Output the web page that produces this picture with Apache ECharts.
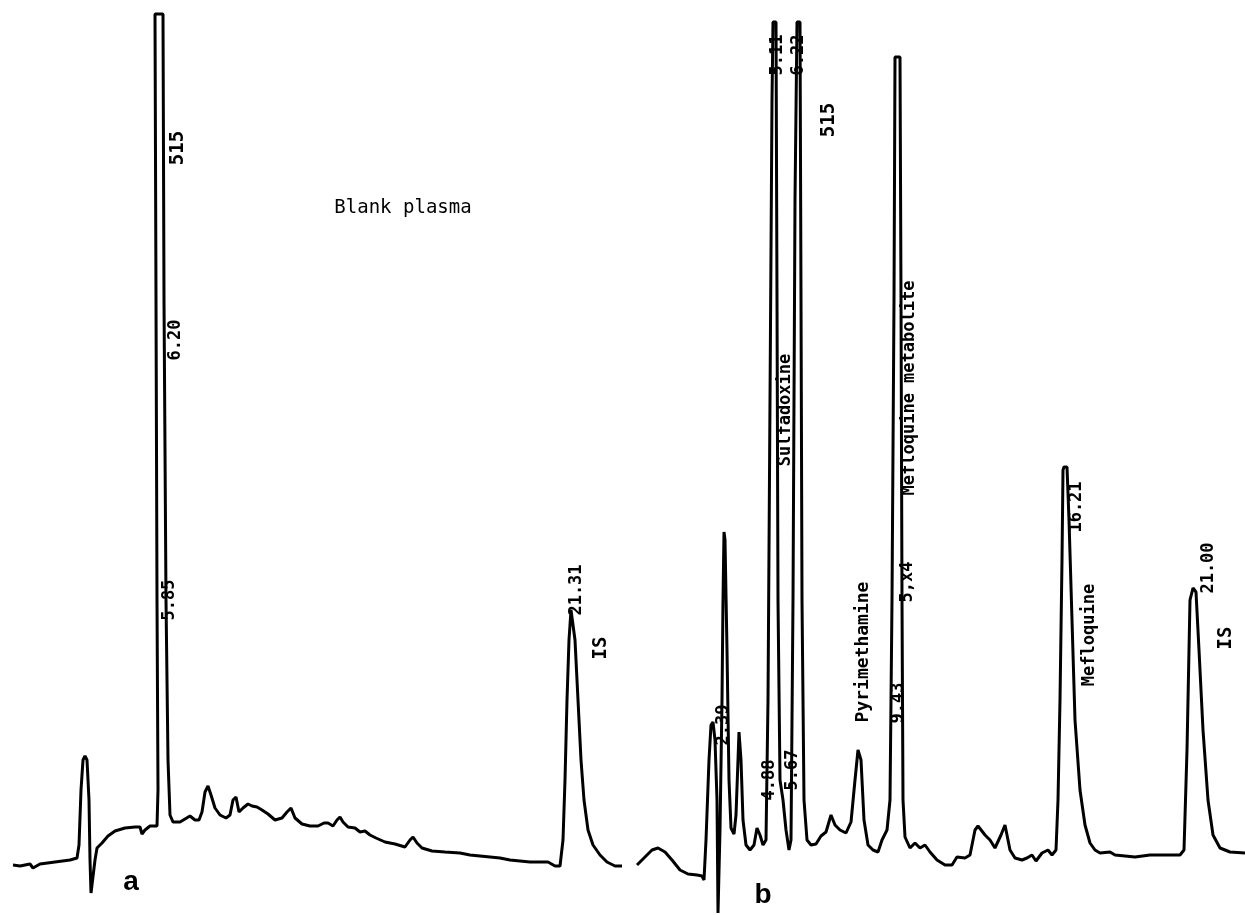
<!DOCTYPE html>
<html>
<head>
<meta charset="utf-8">
<script src="https://cdn.jsdelivr.net/npm/echarts@6/dist/echarts.min.js"></script>
<style>html,body{margin:0;padding:0;background:#fff}#c{width:1245px;height:915px}</style>
</head>
<body>
<div id="c"></div>
<script>
// Trace a: blank plasma (chart-paper position, detector response in arbitrary units)
const traceA = [[13,50],[20,49],[30,51],[33,47],[40,51],[55,53],[70,55],[77,57],[79,70],[81,125],[83,155],[85,159],[87,155],[89,115],[90,55],[91,22],[93,22],[95,55],[97,67],[102,72],[108,79],[115,84],[125,87],[135,88],[140,88],[142,81],[145,85],[150,89],[157,89],[158,125],[157,315],[156,615],[155,901],[163,901],[164,615],[166,315],[168,155],[170,100],[173,93],[180,93],[185,96],[190,99],[195,95],[199,95],[202,103],[205,123],[208,129],[211,120],[215,107],[220,100],[226,97],[230,100],[233,115],[236,118],[239,103],[243,107],[248,111],[252,109],[257,108],[262,105],[268,101],[275,95],[282,97],[287,103],[291,107],[295,97],[302,91],[310,89],[318,89],[324,92],[328,92],[333,89],[337,95],[340,98],[343,93],[348,88],[355,87],[360,83],[365,84],[370,80],[376,77],[385,73],[395,71],[405,68],[410,75],[413,78],[417,72],[422,67],[432,64],[445,63],[460,62],[470,60],[480,59],[490,58],[500,57],[510,55],[520,54],[530,53],[540,53],[548,53],[555,49],[560,49],[563,75],[565,135],[567,215],[569,275],[571,305],[573,303],[575,275],[578,215],[581,155],[584,115],[588,85],[593,70],[600,60],[607,53],[615,49],[622,49]];

// Trace b: spiked plasma
const traceB = [[637,50],[645,58],[652,65],[658,67],[665,63],[672,55],[680,45],[688,41],[697,40],[702,39],[704,35],[706,75],[709,155],[711,190],[713,193],[715,175],[717,115],[718,2],[719,2],[720,85],[722,215],[723,315],[724,383],[725,375],[727,265],[729,135],[731,87],[734,81],[736,100],[738,155],[739,183],[741,155],[743,95],[746,70],[750,65],[754,70],[757,87],[760,80],[763,70],[766,75],[768,215],[770,515],[772,815],[773,893],[776,893],[777,615],[778,315],[780,135],[783,115],[786,85],[789,65],[791,75],[793,315],[795,715],[797,893],[800,893],[801,615],[802,315],[804,115],[807,75],[811,70],[816,71],[821,79],[826,83],[831,100],[835,90],[840,85],[846,82],[851,93],[855,135],[858,165],[861,155],[864,95],[868,70],[873,65],[878,63],[882,75],[887,85],[890,115],[892,315],[894,615],[895,858],[900,858],[901,615],[902,315],[903,115],[905,78],[910,67],[915,72],[920,67],[925,70],[930,63],[937,55],[945,50],[952,50],[957,58],[965,57],[970,60],[975,85],[978,89],[985,80],[990,75],[995,67],[1001,80],[1005,90],[1010,65],[1015,57],[1022,55],[1027,57],[1032,60],[1036,54],[1042,62],[1048,65],[1052,60],[1056,65],[1058,115],[1060,215],[1062,355],[1063,445],[1064,448],[1067,448],[1069,395],[1072,295],[1075,195],[1080,125],[1085,90],[1090,72],[1095,65],[1100,62],[1110,63],[1115,60],[1135,58],[1150,60],[1180,60],[1184,65],[1187,165],[1190,315],[1193,327],[1196,323],[1199,265],[1203,185],[1208,115],[1213,80],[1220,67],[1230,63],[1245,62]];

const retentionLabelsA = ['515', '6.20', '5.85', '21.31', 'IS'];
const retentionLabelsB = ['5.11', '6.22', '515', '2.39', '4.88', '5.67', '9.43', '5,x4', '16.21', '21.00', 'IS'];
const compoundNames = ['Sulfadoxine', 'Pyrimethamine', 'Mefloquine metabolite', 'Mefloquine'];
const titleText = 'Blank plasma';
const panelLetters = ['a', 'b'];

// ---- layout (positions/styles only) ----
const mono = '"DejaVu Sans Mono", monospace';
const labelLayoutA = [[178,148],[176,340],[170,600],[577,590],[601,648]];
const labelLayoutB = [[778,55],[799,55],[829,120],[724,725],[770,780],[793,770],[899,703],[908,582],[1077,507],[1209,568],[1226,638]];
const compoundLayout = [[786,410],[863,652],[910,388],[1090,635]];

function vText(text, x, y, size, weight) {
  return {
    type: 'text', x: x, y: y, rotation: Math.PI / 2,
    style: { text: text, fontFamily: mono, fontSize: size, fontWeight: weight || 'bold', fill: '#000', align: 'center', verticalAlign: 'middle' },
    z: 100
  };
}

const graphics = [];
retentionLabelsA.forEach((t, i) => graphics.push(vText(t, labelLayoutA[i][0], labelLayoutA[i][1], t === 'IS' || t === '515' ? 19 : 17)));
retentionLabelsB.forEach((t, i) => graphics.push(vText(t, labelLayoutB[i][0], labelLayoutB[i][1], t === 'IS' || t === '515' ? 19 : 17)));
compoundNames.forEach((t, i) => graphics.push(vText(t, compoundLayout[i][0], compoundLayout[i][1], t === 'Pyrimethamine' ? 18 : 17)));
graphics.push({ type: 'text', x: 403, y: 208, style: { text: titleText, fontFamily: mono, fontSize: 19, fill: '#000', align: 'center', verticalAlign: 'middle' } });
graphics.push({ type: 'text', x: 131, y: 882, style: { text: panelLetters[0], fontFamily: '"Liberation Sans", Arial, sans-serif', fontSize: 28, fontWeight: 'bold', fill: '#000', align: 'center', verticalAlign: 'middle' } });
graphics.push({ type: 'text', x: 763, y: 895, style: { text: panelLetters[1], fontFamily: '"Liberation Sans", Arial, sans-serif', fontSize: 28, fontWeight: 'bold', fill: '#000', align: 'center', verticalAlign: 'middle' } });

const chart = echarts.init(document.getElementById('c'), null, { renderer: 'canvas' });
chart.setOption({
  animation: false,
  backgroundColor: '#fff',
  grid: { left: 0, right: 0, top: 0, bottom: 0 },
  xAxis: { type: 'value', min: 0, max: 1245, show: false },
  yAxis: { type: 'value', min: 0, max: 915, show: false },
  series: [
    { type: 'line', data: traceA, showSymbol: false, lineStyle: { color: '#000', width: 3 }, silent: true },
    { type: 'line', data: traceB, showSymbol: false, lineStyle: { color: '#000', width: 3 }, silent: true }
  ],
  graphic: graphics
});
</script>
</body>
</html>
